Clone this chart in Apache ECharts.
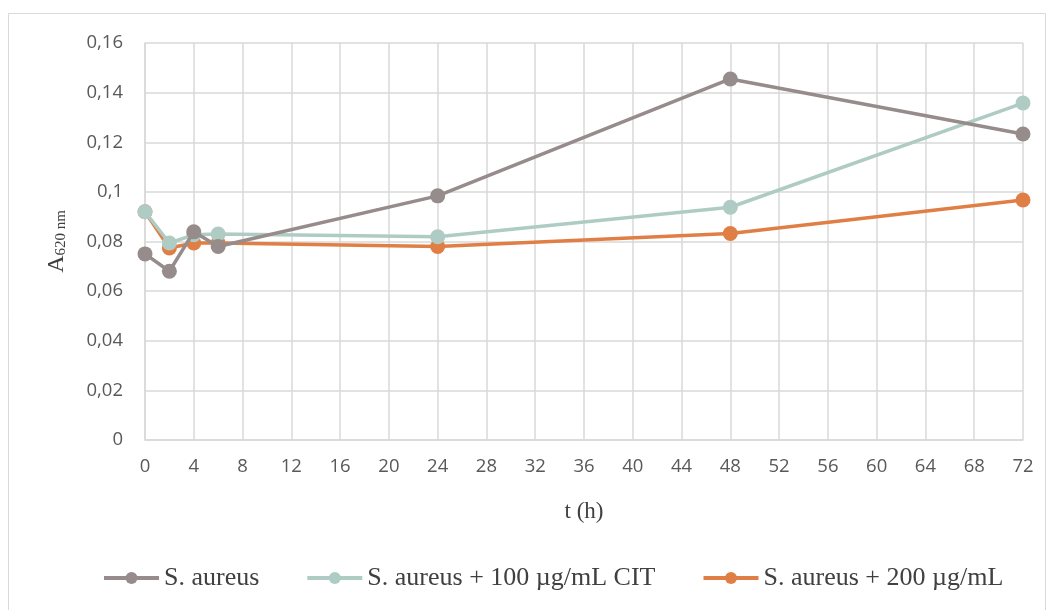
<!DOCTYPE html>
<html><head><meta charset="utf-8">
<script src="https://cdn.jsdelivr.net/npm/echarts@6/dist/echarts.min.js"></script>
<style>html,body{margin:0;padding:0;background:#fff}#c{width:1054px;height:610px}</style>
</head><body><div id="c"></div>
<script>
var times = [0, 2, 4, 6, 24, 48, 72];
var seriesNames = ['S. aureus', 'S. aureus + 100 µg/mL CIT', 'S. aureus + 200 µg/mL'];
var aureus = [0.075, 0.068, 0.0839, 0.078, 0.0984, 0.1455, 0.1233];
var cit100 = [0.092, 0.0794, 0.0827, 0.083, 0.0819, 0.0938, 0.1358];
var cit200 = [0.092, 0.0774, 0.0794, 0.0794, 0.078, 0.0832, 0.0967];
var colors = ['#968c8b', '#afccc4', '#e07f45'];

function pairs(v){ return times.map(function(t,i){ return [t, v[i]]; }); }
var chart = echarts.init(document.getElementById('c'));
var tickFont = {fontFamily:'Open Sans, Liberation Sans, sans-serif', fontSize:18.5, color:'#595959'};
chart.setOption({
  animation:false,
  graphic:[{type:'rect', shape:{x:8.5,y:13.5,width:1037,height:600}, style:{fill:'none', stroke:'#d9d9d9', lineWidth:1}}],
  grid:{left:145, right:31, top:43, bottom:170},
  xAxis:{type:'value', min:0, max:72, interval:4,
    name:'t (h)', nameLocation:'middle', nameGap:60,
    nameTextStyle:{fontFamily:'Liberation Serif, serif', fontSize:23, color:'#404040'},
    axisLine:{show:true, lineStyle:{color:'#d9d9d9', width:1.5}},
    axisTick:{show:false},
    axisLabel:Object.assign({margin:17}, tickFont),
    splitLine:{show:true, lineStyle:{color:'#d9d9d9', width:1.5}}},
  yAxis:{type:'value', min:0, max:0.16, interval:0.02,
    name:'{a|A}{b|620 nm}', nameLocation:'middle', nameGap:76,
    nameTextStyle:{rich:{a:{fontFamily:'Liberation Serif, serif', fontSize:24, color:'#404040'},
      b:{fontFamily:'Liberation Serif, serif', fontSize:15, color:'#404040', verticalAlign:'bottom', padding:[10,0,0,0]}}},
    axisLine:{show:true, lineStyle:{color:'#d9d9d9', width:1.5}},
    axisTick:{show:false},
    axisLabel:Object.assign({margin:22, formatter:function(v){ return String(Math.round(v*100)/100).replace('.', ','); }}, tickFont),
    splitLine:{show:true, lineStyle:{color:'#d9d9d9', width:1.5}}},
  legend:{bottom:14, left:97, itemGap:46, itemWidth:55, itemHeight:15,
    textStyle:{fontFamily:'Liberation Serif, serif', fontSize:26, color:'#404040'},
    data:seriesNames.map(function(n,i){ return {name:n, itemStyle:{color:colors[i]}, lineStyle:{color:colors[i], width:4}}; })},
  series:[aureus, cit100, cit200].map(function(v,i){
    return {name:seriesNames[i], type:'line', data:pairs(v), symbol:'circle', symbolSize:15,
      lineStyle:{color:colors[i], width:3.5}, itemStyle:{color:colors[i]}, z:3-i};
  })
});
</script></body></html>
